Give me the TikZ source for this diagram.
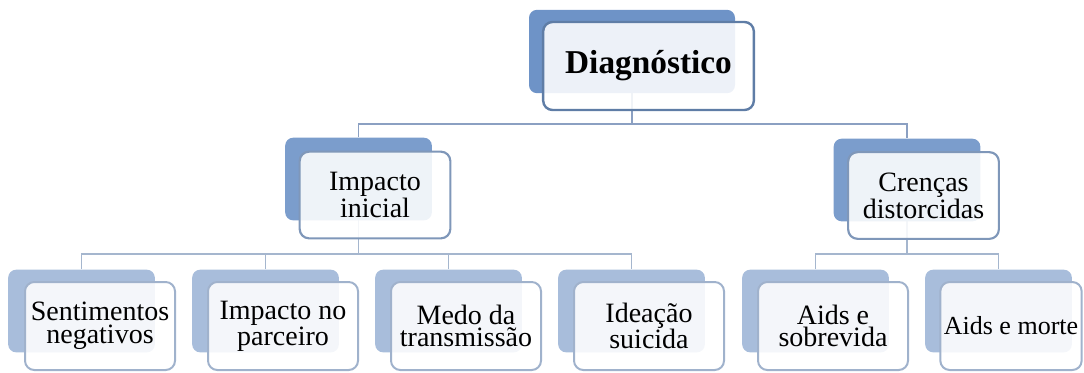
\documentclass[tikz,border=0pt]{standalone}
\usepackage{fontspec}
\setmainfont{Liberation Serif}
\definecolor{backA}{HTML}{6E93C7}
\definecolor{backB}{HTML}{7B9DCC}
\definecolor{backC}{HTML}{A8BDDB}
\definecolor{edgeA}{HTML}{5F7DA6}
\definecolor{edgeB}{HTML}{7F97B9}
\definecolor{edgeC}{HTML}{A0B2CC}
\definecolor{connA}{HTML}{8BA0C2}
\definecolor{connB}{HTML}{A5B6CE}
\tikzset{
  backbox/.style={rectangle, rounded corners=6pt, inner sep=0pt, draw=none},
  frontbox/.style={rectangle, rounded corners=7pt, inner sep=0pt, fill=white, fill opacity=0.88, text opacity=1, align=center, text=black},
  backtop/.style={backbox, fill=backA, minimum width=154.5pt, minimum height=62.5pt},
  fronttop/.style={frontbox, draw=edgeA, line width=1.8pt, minimum width=158pt, minimum height=66pt, font=\rmfamily\fontsize{25}{30}\selectfont\bfseries},
  backmid/.style={backbox, fill=backB, minimum width=110pt, minimum height=62pt},
  frontmid/.style={frontbox, draw=edgeB, line width=1.6pt, minimum width=113pt, minimum height=65pt, font=\rmfamily\fontsize{21}{17.5}\selectfont},
  backlow/.style={backbox, fill=backC, minimum width=110pt, minimum height=62pt},
  frontlow/.style={frontbox, draw=edgeC, line width=1.5pt, minimum width=112.5pt, minimum height=66pt, font=\rmfamily\fontsize{21}{17}\selectfont},
  connone/.style={draw=connA, line width=1.4pt},
  conntwo/.style={draw=connB, line width=1.4pt},
}
\begin{document}
\begin{tikzpicture}[x=0.75pt, y=-0.75pt]
\useasboundingbox (0,0) rectangle (1084,372);
% junction points
\coordinate (j1) at (632,124);
\coordinate (j2) at (358.5,254);
\coordinate (j3) at (907,254);
% back boxes (anchors only, invisible)
\path
  (632,51.5) node[backtop, fill=none] (tb) {}
  (358.5,179) node[backmid, fill=none] (ib) {}
  (907,180) node[backmid, fill=none] (cb) {}
  (81.5,311) node[backlow, fill=none] (l1b) {}
  (265.5,311) node[backlow, fill=none] (l2b) {}
  (448.5,311) node[backlow, fill=none] (l3b) {}
  (631.5,311) node[backlow, fill=none] (l4b) {}
  (815.5,311) node[backlow, fill=none] (l5b) {}
  (998.5,311) node[backlow, fill=none] (l6b) {};
% connectors
\draw[connone] (tb.center) -- (j1);
\draw[connone] (ib.north) |- (j1) -| (cb.north);
\draw[conntwo] (ib.center) -- (j2);
\draw[conntwo] (l1b.north) |- (j2) -| (l4b.north);
\draw[conntwo] (l2b.north) -- (l2b.north |- j2);
\draw[conntwo] (l3b.north) -- (l3b.north |- j2);
\draw[conntwo] (cb.center) -- (j3);
\draw[conntwo] (l5b.north) |- (j3) -| (l6b.north);
% back boxes drawn above connectors
\path
  (tb.center) node[backtop] (tbf) {}
  (ib.center) node[backmid] (ibf) {}
  (cb.center) node[backmid] (cbf) {}
  (l1b.center) node[backlow] (l1bf) {}
  (l2b.center) node[backlow] (l2bf) {}
  (l3b.center) node[backlow] (l3bf) {}
  (l4b.center) node[backlow] (l4bf) {}
  (l5b.center) node[backlow] (l5bf) {}
  (l6b.center) node[backlow] (l6bf) {};
% front boxes
\node[fronttop] (tf) at (648.5,66) {Diagnóstico};
\node[frontmid] (if) at (375,195) {Impacto\\inicial};
\node[frontmid] (cf) at (923.5,195.5) {Crenças\\distorcidas};
\node[frontlow] (l1f) at (100,326) {Sentimentos\\negativos};
\node[frontlow] (l2f) at (283,326) {Impacto no\\parceiro};
\node[frontlow] (l3f) at (466,326) {Medo da\\transmissão};
\node[frontlow] (l4f) at (649,326) {Ideação\\suicida};
\node[frontlow] (l5f) at (833,326) {Aids e\\sobrevida};
\node[frontlow, minimum width=106pt, font=\rmfamily\fontsize{19.5}{18}\selectfont] (l6f) at (1011,326) {Aids e morte};
\end{tikzpicture}
\end{document}
